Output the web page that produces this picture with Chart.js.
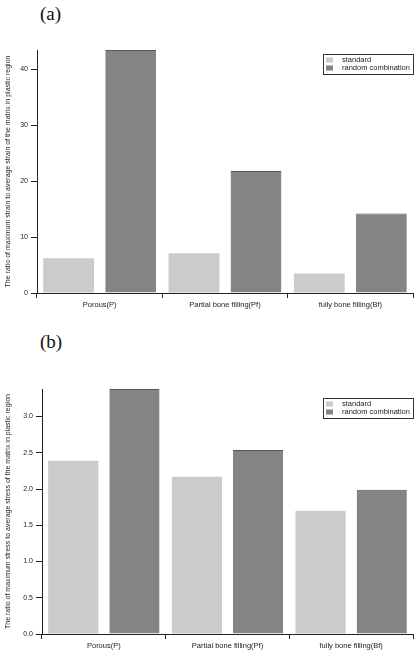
<!DOCTYPE html>
<html>
<head>
<meta charset="utf-8">
<script src="https://cdn.jsdelivr.net/npm/chart.js@4/dist/chart.umd.min.js"></script>
<style>
    body { margin: 0; background: #fff; width: 420px; height: 656px; overflow: hidden; }
    .panel { position: absolute; left: 0; width: 420px; height: 328px; }
    .tag { position: absolute; left: 40px; font: 19px "Liberation Serif", serif; color: #111; }
</style>
</head>
<body>
<div class="tag" style="top:3px">(a)</div>
<div class="panel" style="top:0"><canvas id="strainChart" width="420" height="328"></canvas></div>
<div class="tag" style="top:331px">(b)</div>
<div class="panel" style="top:328px"><canvas id="stressChart" width="420" height="328"></canvas></div>
<script>
    const categories = ["Porous(P)", "Partial bone filling(Pf)", "fully bone filling(Bf)"];
    const seriesNames = ["standard", "random combination"];

    // (a) strain ratio
    const strainStandard = [6.2, 7.1, 3.5];
    const strainRandom = [43.4, 21.8, 14.2];
    const strainTicks = [0, 10, 20, 30, 40];

    // (b) stress ratio
    const stressStandard = [2.39, 2.17, 1.70];
    const stressRandom = [3.38, 2.54, 1.99];
    const stressTicks = [0, 0.5, 1.0, 1.5, 2.0, 2.5, 3.0];

    const lightGrey = "#cbcbcb";
    const darkGrey = "#848484";
    const textColor = "#222";
    const fontFamily = '"Liberation Sans", Arial, sans-serif';

    // small boxed legend inside the plot, top right
    const boxLegend = {
        id: "boxLegend",
        afterDraw(chart, args, opts) {
            const ctx = chart.ctx;
            const area = chart.chartArea;
            const w = 90, h = 20;
            const x = area.right - w;
            const y = area.top + opts.offset;
            ctx.save();
            ctx.strokeStyle = "#333";
            ctx.lineWidth = 1;
            ctx.strokeRect(x + 0.5, y + 0.5, w, h);
            ctx.font = "7.5px " + fontFamily;
            ctx.textBaseline = "middle";
            chart.data.datasets.forEach((ds, i) => {
                const cy = y + 6 + i * 8;
                ctx.fillStyle = ds.backgroundColor;
                ctx.fillRect(x + 3, cy - 2.5, 7, 5);
                ctx.fillStyle = textColor;
                ctx.fillText(ds.label, x + 19, cy);
            });
            ctx.restore();
        },
    };

    function makeChart(id, standard, random, ticks, yMax, yTitle, opt) {
        const ctx = document.getElementById(id).getContext("2d");
        return new Chart(ctx, {
            type: "bar",
            data: {
                labels: categories,
                datasets: [
                    {
                        label: seriesNames[0],
                        data: standard,
                        backgroundColor: lightGrey,
                        borderWidth: 0,
                    },
                    {
                        label: seriesNames[1],
                        data: random,
                        backgroundColor: darkGrey,
                        borderColor: "#555",
                        borderWidth: { top: 1, left: 0, right: 0, bottom: 0 },
                    },
                ],
            },
            options: {
                responsive: false,
                animation: false,
                categoryPercentage: 0.99,
                barPercentage: 0.82,
                layout: {
                    padding: { left: 0, right: 7, top: opt.top, bottom: opt.bottom },
                },
                plugins: {
                    legend: { display: false },
                    tooltip: { enabled: false },
                    boxLegend: { offset: opt.legendOffset },
                },
                scales: {
                    x: {
                        grid: {
                            drawOnChartArea: false,
                            offset: true,
                            tickLength: 5,
                            color: "#222",
                        },
                        border: { color: "#222", width: 1 },
                        ticks: {
                            color: textColor,
                            padding: 2,
                            maxRotation: 0,
                            font: { family: fontFamily, size: 7.5 },
                        },
                        afterFit: (s) => { s.height = 20; },
                    },
                    y: {
                        min: 0,
                        max: yMax,
                        afterBuildTicks: (s) => {
                            s.ticks = ticks.map((v) => ({ value: v }));
                        },
                        grid: {
                            drawOnChartArea: false,
                            tickLength: 6,
                            color: "#222",
                        },
                        border: { color: "#222", width: 1 },
                        ticks: {
                            color: textColor,
                            padding: 3,
                            font: { family: fontFamily, size: 7 },
                            callback: (v) => opt.decimals ? v.toFixed(opt.decimals) : String(v),
                        },
                        title: {
                            display: true,
                            text: yTitle,
                            color: textColor,
                            padding: { top: 4, bottom: 0 },
                            font: { family: fontFamily, size: 7 },
                        },
                        afterFit: (s) => { s.width = opt.left; },
                    },
                },
            },
            plugins: [boxLegend],
        });
    }

    makeChart(
        "strainChart",
        strainStandard,
        strainRandom,
        strainTicks,
        43.4,
        "The ratio of maximum strain to average strain of the matrix in plastic region",
        { top: 50, bottom: 15, left: 37, decimals: 0, legendOffset: 4 }
    );

    makeChart(
        "stressChart",
        stressStandard,
        stressRandom,
        stressTicks,
        3.38,
        "The ratio of maximum stress to average stress of the matrix in plastic region",
        { top: 61, bottom: 2, left: 42, decimals: 1, legendOffset: 9 }
    );
</script>
</body>
</html>
